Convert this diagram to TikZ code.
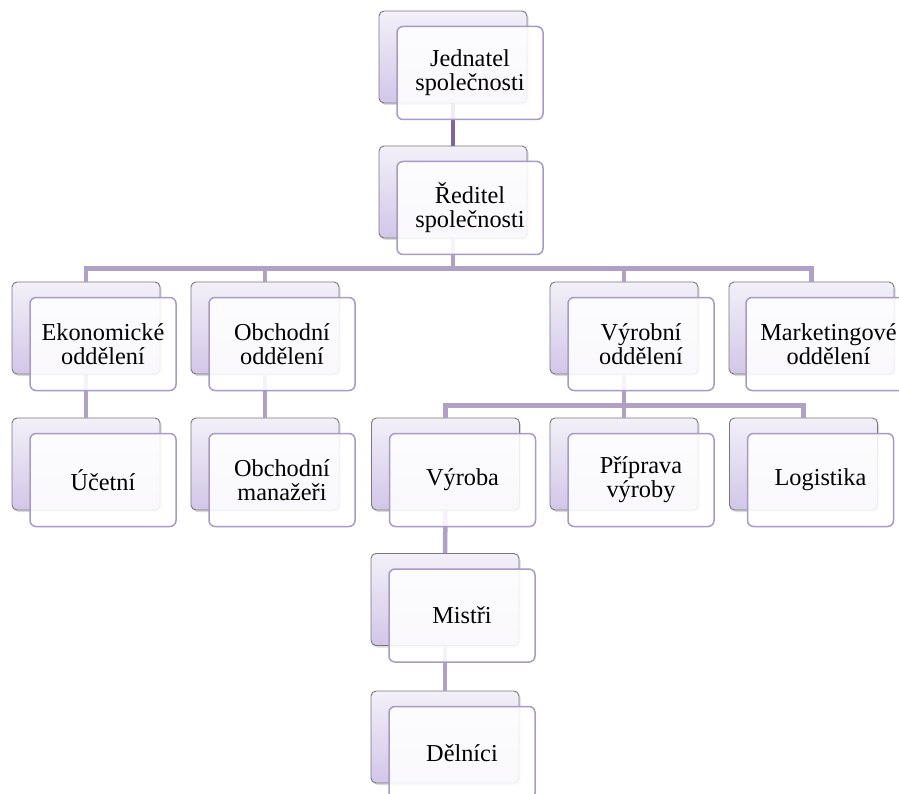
\documentclass[tikz,border=0pt]{standalone}
\usepackage{fontspec}
\setmainfont{Liberation Serif}
\usetikzlibrary{shadows,calc}
\definecolor{darkline}{RGB}{128,100,160}
\definecolor{busline}{RGB}{176,160,198}
\definecolor{frontedge}{RGB}{168,154,198}
\definecolor{backtop}{RGB}{243,240,248}
\definecolor{backbot}{RGB}{210,198,232}
\definecolor{backedge}{RGB}{120,120,124}
\tikzset{
  backbox/.style={rectangle, rounded corners=5pt, draw=backedge, line width=0.9pt,
    top color=backtop, bottom color=backbot, minimum height=92pt, inner sep=0pt,
    drop shadow={shadow xshift=1.5pt, shadow yshift=-2pt, opacity=0.3}},
  frontbox/.style={rectangle, rounded corners=6pt, draw=frontedge, line width=1.5pt,
    fill=white, fill opacity=0.88, text opacity=1, draw opacity=1,
    minimum height=93pt, inner sep=0pt, align=center, text=black,
    font=\fontsize{24.3}{24}\selectfont},
  topconn/.style={draw=darkline, line width=4.5pt},
  busconn/.style={draw=busline, line width=4.5pt},
}
\begin{document}
\begin{tikzpicture}[x=1pt,y=-1pt]
\useasboundingbox (0,0) rectangle (899,794);
\clip (0,0) rectangle (899,794);
% back boxes
\node[backbox, minimum width=148pt] (jedb) at (453,57) {};
\node[backbox, minimum width=148pt] (redb) at (453,192) {};
\node[backbox, minimum width=148pt] (ekob) at (86,328) {};
\node[backbox, minimum width=148pt] (obcb) at (265,328) {};
\node[backbox, minimum width=148pt] (vyrb) at (624,328) {};
\node[backbox, minimum width=165pt] (mktb) at (811.5,328) {};
\node[backbox, minimum width=148pt] (uctb) at (86,464) {};
\node[backbox, minimum width=148pt] (manb) at (265,464) {};
\node[backbox, minimum width=148pt] (vybb) at (445.5,464) {};
\node[backbox, minimum width=148pt] (prib) at (624,464) {};
\node[backbox, minimum width=148pt] (logb) at (803.5,464) {};
\node[backbox, minimum width=148pt] (misb) at (445,599.5) {};
\node[backbox, minimum width=148pt] (delb) at (445,737) {};
% connectors
\draw[topconn] (jedb.south) -- (redb.north);
\draw[busconn] (redb.south) -- ++(0,30) -| (ekob.north);
\draw[busconn] (redb.south) -- ++(0,30) -| (obcb.north);
\draw[busconn] (redb.south) -- ++(0,30) -| (vyrb.north);
\draw[busconn] (redb.south) -- ++(0,30) -| (mktb.north);
\draw[busconn] (ekob.south) -- (uctb.north);
\draw[busconn] (obcb.south) -- (manb.north);
\draw[busconn] (vyrb.south) -- ++(0,31) -| (vybb.north);
\draw[busconn] (vyrb.south) -- ++(0,31) -| (prib.north);
\draw[busconn] (vyrb.south) -- ++(0,31) -| (logb.north);
\draw[busconn] (vybb.south) -- (misb.north);
\draw[busconn] (misb.south) -- (delb.north);
% front boxes
\node[frontbox, minimum width=146pt] (jed) at ($(jedb)+(17,16)$) {Jednatel\\společnosti};
\node[frontbox, minimum width=146pt] (red) at ($(redb)+(17,16)$) {Ředitel\\společnosti};
\node[frontbox, minimum width=146pt] (eko) at ($(ekob)+(17,16)$) {Ekonomické\\oddělení};
\node[frontbox, minimum width=146pt] (obc) at ($(obcb)+(17,16)$) {Obchodní\\oddělení};
\node[frontbox, minimum width=146pt] (vyr) at ($(vyrb)+(17,16)$) {Výrobní\\oddělení};
\node[frontbox, minimum width=165pt] (mkt) at ($(mktb)+(17,16)$) {Marketingové\\oddělení};
\node[frontbox, minimum width=146pt] (uct) at ($(uctb)+(17,16)$) {Účetní};
\node[frontbox, minimum width=146pt] (man) at ($(manb)+(17,16)$) {Obchodní\\manažeři};
\node[frontbox, minimum width=146pt] (vyb) at ($(vybb)+(17,16)$) {Výroba};
\node[frontbox, minimum width=146pt] (pri) at ($(prib)+(17,16)$) {Příprava\\výroby};
\node[frontbox, minimum width=146pt] (log) at ($(logb)+(17,16)$) {Logistika};
\node[frontbox, minimum width=146pt] (mis) at ($(misb)+(17,16)$) {Mistři};
\node[frontbox, minimum width=146pt] (del) at ($(delb)+(17,16)$) {Dělníci};
\end{tikzpicture}
\end{document}
